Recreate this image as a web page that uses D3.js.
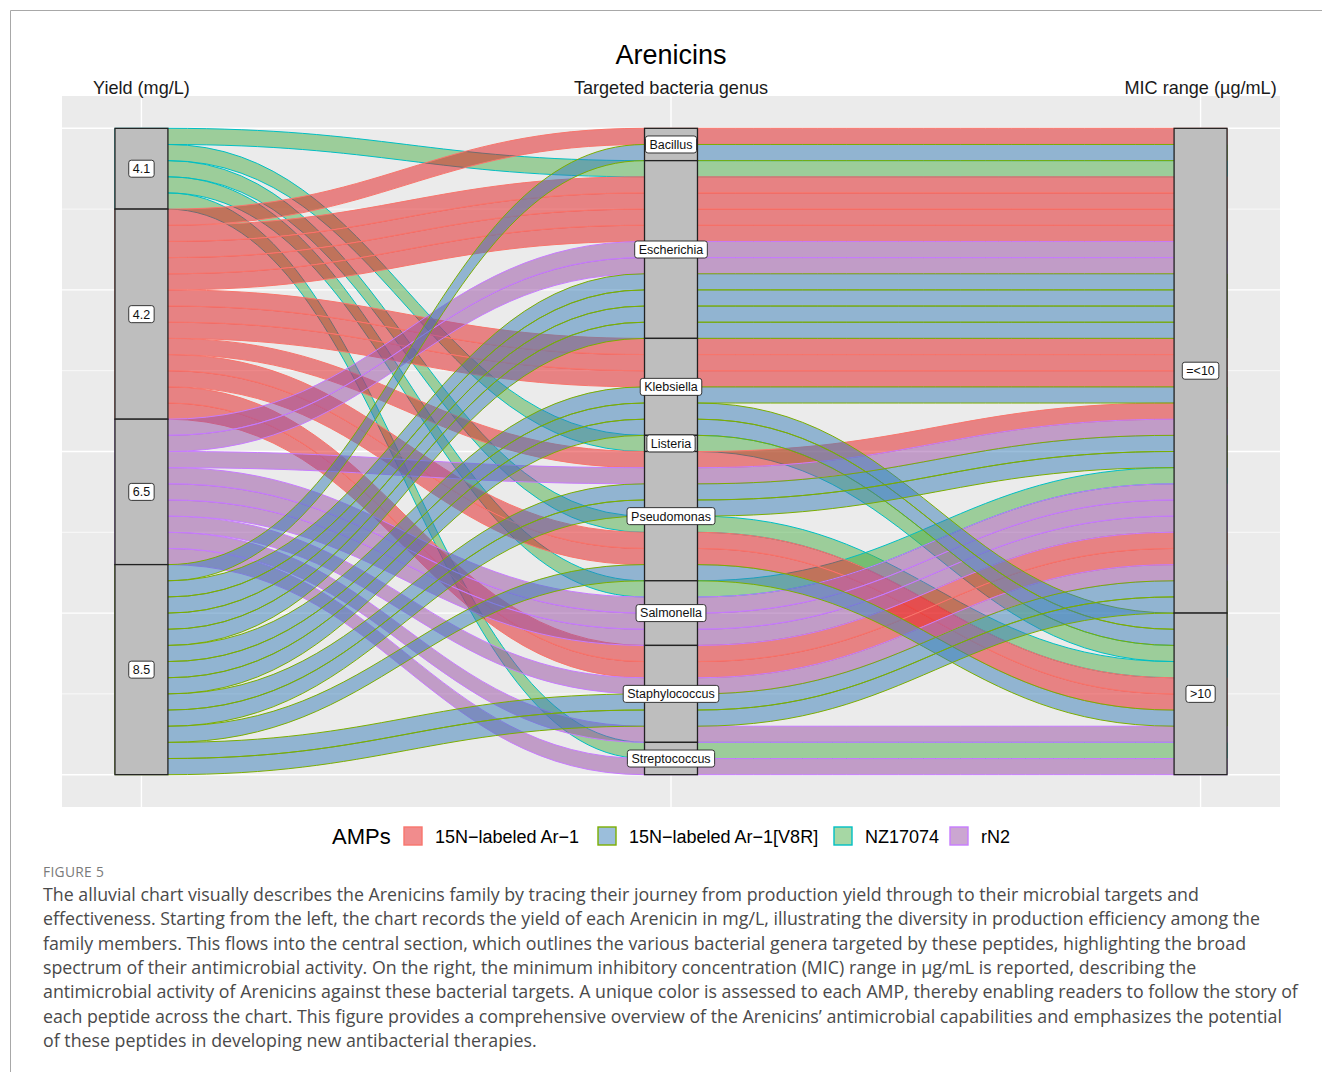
<!DOCTYPE html>
<html>
<head>
<meta charset="utf-8">
<script src="https://cdn.jsdelivr.net/npm/d3@7"></script>
<style>
body { margin: 0; background: #fff; }
</style>
</head>
<body>
<svg id="fig" width="1322" height="1072"></svg>
<script>
// axes and levels
var axisNames = ["Yield (mg/L)", "Targeted bacteria genus", "MIC range (µg/mL)"];
var amps = ["15N-labeled Ar-1", "15N-labeled Ar-1[V8R]", "NZ17074", "rN2"];
var yields = ["4.1", "4.2", "6.5", "8.5"];
var genera = ["Bacillus", "Escherichia", "Klebsiella", "Listeria", "Pseudomonas",
              "Salmonella", "Staphylococcus", "Streptococcus"];
var micRanges = ["=<10", ">10"];

// one row per AMP / genus / MIC combination, n = number of strains
var rowAmp = ["NZ17074", "NZ17074", "NZ17074", "NZ17074", "NZ17074",
              "15N-labeled Ar-1", "15N-labeled Ar-1", "15N-labeled Ar-1", "15N-labeled Ar-1", "15N-labeled Ar-1", "15N-labeled Ar-1",
              "rN2", "rN2", "rN2", "rN2", "rN2", "rN2",
              "15N-labeled Ar-1[V8R]", "15N-labeled Ar-1[V8R]", "15N-labeled Ar-1[V8R]", "15N-labeled Ar-1[V8R]",
              "15N-labeled Ar-1[V8R]", "15N-labeled Ar-1[V8R]", "15N-labeled Ar-1[V8R]"];
var rowYield = ["4.1", "4.1", "4.1", "4.1", "4.1",
                "4.2", "4.2", "4.2", "4.2", "4.2", "4.2",
                "6.5", "6.5", "6.5", "6.5", "6.5", "6.5",
                "8.5", "8.5", "8.5", "8.5", "8.5", "8.5", "8.5"];
var rowGenus = ["Escherichia", "Listeria", "Pseudomonas", "Salmonella", "Streptococcus",
                "Bacillus", "Escherichia", "Klebsiella", "Pseudomonas", "Pseudomonas", "Staphylococcus",
                "Escherichia", "Pseudomonas", "Salmonella", "Staphylococcus", "Staphylococcus", "Streptococcus",
                "Bacillus", "Escherichia", "Klebsiella", "Klebsiella", "Pseudomonas", "Pseudomonas", "Staphylococcus"];
var rowMic = ["=<10", ">10", ">10", "=<10", ">10",
              "=<10", "=<10", "=<10", "=<10", ">10", "=<10",
              "=<10", "=<10", "=<10", "=<10", ">10", ">10",
              "=<10", "=<10", "=<10", ">10", "=<10", ">10", "=<10"];
var rowN = [1, 1, 1, 1, 1,
            1, 4, 3, 1, 2, 2,
            2, 1, 3, 1, 1, 1,
            1, 4, 1, 2, 2, 1, 2];

var fillCol = d3.scaleOrdinal().domain(amps).range(["#E41A1C", "#377EB8", "#4DAF4A", "#984EA3"]);
var lineCol = d3.scaleOrdinal().domain(amps).range(["#F8766D", "#7CAE00", "#00BFC4", "#C77CFF"]);

var svg = d3.select("#fig");
var font = "'Liberation Sans', Arial, sans-serif";

// frame of the figure page
svg.append("path").attr("d", "M10.5,1072 L10.5,10.5 L1322,10.5")
    .attr("fill", "none").attr("stroke", "#a8a8a8").attr("stroke-width", 1);

// one alluvium per strain
var units = [];
rowAmp.forEach(function(a, i){
    for (var k = 0; k < rowN[i]; k++) {
        units.push({id: units.length, amp: a, yield: rowYield[i], genus: rowGenus[i], mic: rowMic[i],
                    iy: yields.indexOf(rowYield[i]), ig: genera.indexOf(rowGenus[i]), im: micRanges.indexOf(rowMic[i])});
    }
});
var total = units.length;

// lode order inside each stratum (zigzag)
function stack(pos, keys){
    var s = units.slice().sort(function(a, b){
        for (var j = 0; j < keys.length; j++) {
            if (a[keys[j]] != b[keys[j]]) return a[keys[j]] - b[keys[j]];
        }
        return a.id - b.id;
    });
    s.forEach(function(u, i){ u.top = u.top || []; u.top[pos] = total - i; });
}
stack(0, ["iy", "ig", "im"]);
stack(1, ["ig", "im", "iy"]);
stack(2, ["im", "ig", "iy"]);

var x = d3.scalePoint().domain(axisNames).range([62, 1280]).padding(0.15);
var y = d3.scaleLinear().domain([-2, 42]).range([807, 96]);
var hw = x.step() * 0.05;

var g = svg.append("g");

// panel
g.append("rect").attr("x", 62).attr("y", 96).attr("width", 1218).attr("height", 711).attr("fill", "#EBEBEB");
[5, 15, 25, 35].forEach(function(v){
    g.append("line").attr("x1", 62).attr("x2", 1280).attr("y1", y(v)).attr("y2", y(v))
        .attr("stroke", "#fff").attr("stroke-width", 0.7);
});
[0, 10, 20, 30, 40].forEach(function(v){
    g.append("line").attr("x1", 62).attr("x2", 1280).attr("y1", y(v)).attr("y2", y(v))
        .attr("stroke", "#fff").attr("stroke-width", 1.4);
});
axisNames.forEach(function(a){
    g.append("line").attr("x1", x(a)).attr("x2", x(a)).attr("y1", 96).attr("y2", 807)
        .attr("stroke", "#fff").attr("stroke-width", 1.4);
});

// alluvia
var k = 0.45;
function flowPath(u){
    var xl = axisNames.map(function(a){ return x(a) - hw; });
    var xr = axisNames.map(function(a){ return x(a) + hw; });
    var yt = u.top.map(function(t){ return y(t); });
    var yb = u.top.map(function(t){ return y(t - 1); });
    var p = d3.path();
    p.moveTo(xl[0], yt[0]);
    for (var j = 0; j < 3; j++) {
        p.lineTo(xr[j], yt[j]);
        if (j < 2) {
            var dx = xl[j + 1] - xr[j];
            p.bezierCurveTo(xr[j] + k * dx, yt[j], xl[j + 1] - k * dx, yt[j + 1], xl[j + 1], yt[j + 1]);
        }
    }
    p.lineTo(xr[2], yb[2]);
    for (var j = 2; j >= 0; j--) {
        p.lineTo(xl[j], yb[j]);
        if (j > 0) {
            var dx = xl[j] - xr[j - 1];
            p.bezierCurveTo(xl[j] - k * dx, yb[j], xr[j - 1] + k * dx, yb[j - 1], xr[j - 1], yb[j - 1]);
        }
    }
    p.closePath();
    return p.toString();
}

g.append("g").selectAll("path")
    .data(units)
    .enter()
    .append("path")
    .attr("d", flowPath)
    .attr("fill", function(d){ return fillCol(d.amp); })
    .attr("fill-opacity", 0.5)
    .attr("stroke", function(d){ return lineCol(d.amp); })
    .attr("stroke-width", 1);

// strata
var levels = [yields, genera, micRanges];
var keyOf = ["yield", "genus", "mic"];
var strata = [];
axisNames.forEach(function(a, j){
    var cum = total;
    levels[j].forEach(function(lv){
        var n = units.filter(function(u){ return u[keyOf[j]] == lv; }).length;
        strata.push({axis: a, label: lv, top: cum, bottom: cum - n});
        cum -= n;
    });
});

g.append("g").selectAll("rect")
    .data(strata)
    .enter()
    .append("rect")
    .attr("x", function(d){ return x(d.axis) - hw; })
    .attr("width", hw * 2)
    .attr("y", function(d){ return y(d.top); })
    .attr("height", function(d){ return y(d.bottom) - y(d.top); })
    .attr("fill", "#BEBEBE")
    .attr("stroke", "#222")
    .attr("stroke-width", 1.3);

var labs = g.append("g").selectAll("g")
    .data(strata)
    .enter()
    .append("g")
    .attr("transform", function(d){ return "translate(" + x(d.axis) + "," + y((d.top + d.bottom) / 2) + ")"; });
labs.append("rect");
labs.append("text")
    .attr("text-anchor", "middle")
    .attr("dy", "0.35em")
    .attr("font-family", font)
    .attr("font-size", 12.5)
    .attr("fill", "#111")
    .text(function(d){ return d.label; });
labs.each(function(){
    var t = d3.select(this).select("text");
    var w = t.node().getComputedTextLength();
    d3.select(this).select("rect")
        .attr("x", -w / 2 - 4).attr("y", -8.5)
        .attr("width", w + 8).attr("height", 17)
        .attr("rx", 2.5).attr("ry", 2.5)
        .attr("fill", "#fff").attr("stroke", "#222").attr("stroke-width", 0.9);
});

// axis labels on top
axisNames.forEach(function(a){
    svg.append("text").attr("x", x(a)).attr("y", 93.5)
        .attr("text-anchor", "middle")
        .attr("font-family", font).attr("font-size", 18.1).attr("fill", "#1a1a1a")
        .text(a);
});

// title
svg.append("text").attr("x", 671).attr("y", 64)
    .attr("text-anchor", "middle")
    .attr("font-family", font).attr("font-size", 27).attr("fill", "#000")
    .text("Arenicins");

// legend
var legend = svg.append("g").attr("transform", "translate(0,836)");
legend.append("text").attr("x", 332).attr("y", 8)
    .attr("font-family", font).attr("font-size", 22).attr("fill", "#000")
    .text("AMPs");
var legendX = [404, 598, 834, 950];
var legendText = ["15N−labeled Ar−1", "15N−labeled Ar−1[V8R]", "NZ17074", "rN2"];
amps.forEach(function(a, i){
    legend.append("rect").attr("x", legendX[i]).attr("y", -9).attr("width", 18).attr("height", 18)
        .attr("fill", fillCol(a)).attr("fill-opacity", 0.5)
        .attr("stroke", lineCol(a)).attr("stroke-width", 1.4);
    legend.append("text").attr("x", legendX[i] + 31).attr("y", 6.5)
        .attr("font-family", font).attr("font-size", 18).attr("fill", "#000")
        .text(legendText[i]);
});

// caption
var capFont = "'Open Sans', 'Noto Sans', sans-serif";
svg.append("text").attr("x", 43).attr("y", 877)
    .attr("font-family", capFont).attr("font-size", 13.8).attr("fill", "#7a7a7a")
    .attr("letter-spacing", 0.3)
    .text("FIGURE 5");
var caption = [
    "The alluvial chart visually describes the Arenicins family by tracing their journey from production yield through to their microbial targets and",
    "effectiveness. Starting from the left, the chart records the yield of each Arenicin in mg/L, illustrating the diversity in production efficiency among the",
    "family members. This flows into the central section, which outlines the various bacterial genera targeted by these peptides, highlighting the broad",
    "spectrum of their antimicrobial activity. On the right, the minimum inhibitory concentration (MIC) range in µg/mL is reported, describing the",
    "antimicrobial activity of Arenicins against these bacterial targets. A unique color is assessed to each AMP, thereby enabling readers to follow the story of",
    "each peptide across the chart. This figure provides a comprehensive overview of the Arenicins’ antimicrobial capabilities and emphasizes the potential",
    "of these peptides in developing new antibacterial therapies."
];
caption.forEach(function(line, i){
    svg.append("text").attr("x", 43).attr("y", 901 + i * 24.3)
        .attr("font-family", capFont).attr("font-size", 17.8).attr("fill", "#4a4a4a")
        .text(line);
});
</script>
</body>
</html>
